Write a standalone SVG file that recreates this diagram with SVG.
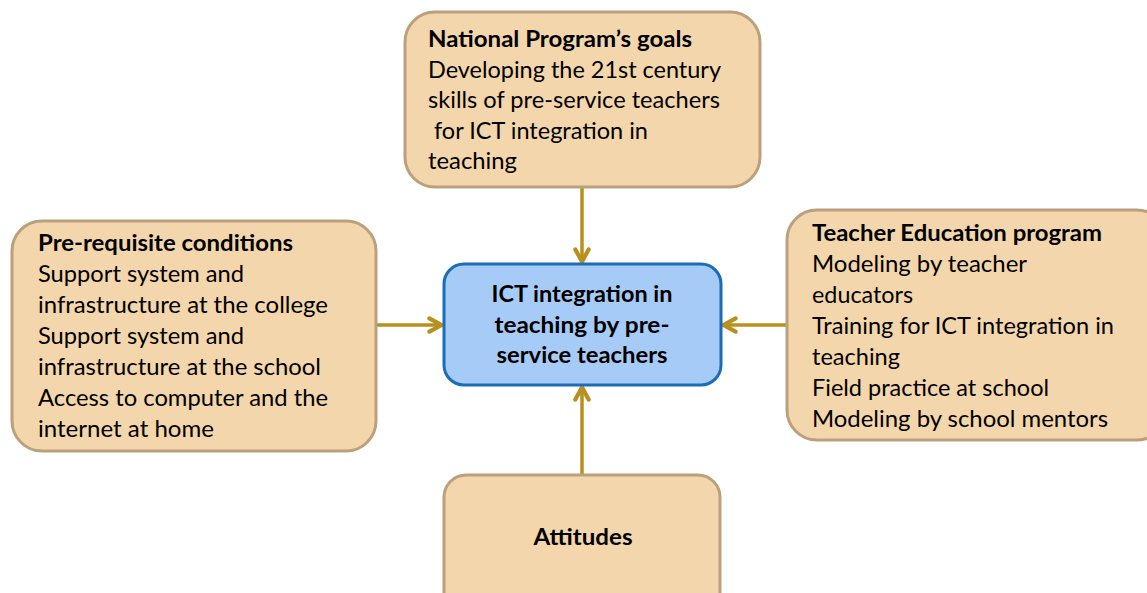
<svg xmlns="http://www.w3.org/2000/svg" width="1147" height="593" viewBox="0 0 1147 593">
  <style>
    .box { fill: #F3D6AB; stroke: #BCA07E; stroke-width: 3; }
    .core { fill: #A7CBF7; stroke: #1C6DB8; stroke-width: 3; }
    .t { font-family: Lato, "Open Sans", "Liberation Sans", sans-serif; font-size: 22.5px; fill: #000; }
    .b { font-weight: bold; }
    .c { text-anchor: middle; }
    .link { stroke: #B8901F; stroke-width: 3.5; fill: none; marker-end: url(#arrow); }
  </style>
  <defs>
    <marker id="arrow" viewBox="0 0 10 10" refX="8.6" refY="5" markerWidth="5" markerHeight="5" markerUnits="strokeWidth" orient="auto">
      <path d="M1.4,1.2 L8.4,5 L1.4,8.8" fill="none" stroke="#B8901F" stroke-width="2.4" stroke-linecap="round" stroke-linejoin="round"/>
    </marker>
  </defs>

  <rect width="1147" height="593" fill="#FFFFFF"/>

  <g id="connectors">
    <line class="link" x1="582" y1="188" x2="582" y2="262"/>
    <line class="link" x1="377" y1="325" x2="442" y2="325"/>
    <line class="link" x1="787" y1="325" x2="723" y2="325"/>
    <line class="link" x1="582" y1="475" x2="582" y2="387"/>
  </g>

  <g id="national-goals">
    <rect class="box" x="405" y="12" width="355" height="175" rx="30"/>
    <text class="t b" x="428" y="47" textLength="264" lengthAdjust="spacingAndGlyphs">National Program’s goals</text>
    <text class="t" x="428" y="78" textLength="293" lengthAdjust="spacingAndGlyphs">Developing the 21st century</text>
    <text class="t" x="428" y="108" textLength="292" lengthAdjust="spacingAndGlyphs">skills of pre-service teachers</text>
    <text class="t" x="434" y="139" textLength="214" lengthAdjust="spacingAndGlyphs">for ICT integration in</text>
    <text class="t" x="428" y="169" textLength="89" lengthAdjust="spacingAndGlyphs">teaching</text>
  </g>

  <g id="prerequisites">
    <rect class="box" x="12" y="221" width="364" height="230" rx="30"/>
    <text class="t b" x="38" y="251" textLength="255" lengthAdjust="spacingAndGlyphs">Pre-requisite conditions</text>
    <text class="t" x="38" y="282" textLength="206" lengthAdjust="spacingAndGlyphs">Support system and</text>
    <text class="t" x="38" y="313" textLength="290" lengthAdjust="spacingAndGlyphs">infrastructure at the college</text>
    <text class="t" x="38" y="344" textLength="206" lengthAdjust="spacingAndGlyphs">Support system and</text>
    <text class="t" x="38" y="375" textLength="283" lengthAdjust="spacingAndGlyphs">infrastructure at the school</text>
    <text class="t" x="38" y="406" textLength="290" lengthAdjust="spacingAndGlyphs">Access to computer and the</text>
    <text class="t" x="38" y="437" textLength="176" lengthAdjust="spacingAndGlyphs">internet at home</text>
  </g>

  <g id="teacher-education">
    <rect class="box" x="787" y="210" width="380" height="230" rx="30"/>
    <text class="t b" x="812" y="241" textLength="290" lengthAdjust="spacingAndGlyphs">Teacher Education program</text>
    <text class="t" x="812" y="272" textLength="215" lengthAdjust="spacingAndGlyphs">Modeling by teacher</text>
    <text class="t" x="812" y="303" textLength="101" lengthAdjust="spacingAndGlyphs">educators</text>
    <text class="t" x="812" y="334" textLength="302" lengthAdjust="spacingAndGlyphs">Training for ICT integration in</text>
    <text class="t" x="812" y="365" textLength="88" lengthAdjust="spacingAndGlyphs">teaching</text>
    <text class="t" x="812" y="396" textLength="237" lengthAdjust="spacingAndGlyphs">Field practice at school</text>
    <text class="t" x="812" y="427" textLength="296" lengthAdjust="spacingAndGlyphs">Modeling by school mentors</text>
  </g>

  <g id="ict-integration">
    <rect class="core" x="444" y="264" width="277" height="121" rx="20"/>
    <text class="t b c" x="582" y="302" textLength="181" lengthAdjust="spacingAndGlyphs">ICT integration in</text>
    <text class="t b c" x="582" y="333" textLength="175" lengthAdjust="spacingAndGlyphs">teaching by pre-</text>
    <text class="t b c" x="582" y="363" textLength="171" lengthAdjust="spacingAndGlyphs">service teachers</text>
  </g>

  <g id="attitudes">
    <rect class="box" x="444" y="475" width="276" height="140" rx="22"/>
    <text class="t b c" x="583" y="545" textLength="99" lengthAdjust="spacingAndGlyphs">Attitudes</text>
  </g>
</svg>
